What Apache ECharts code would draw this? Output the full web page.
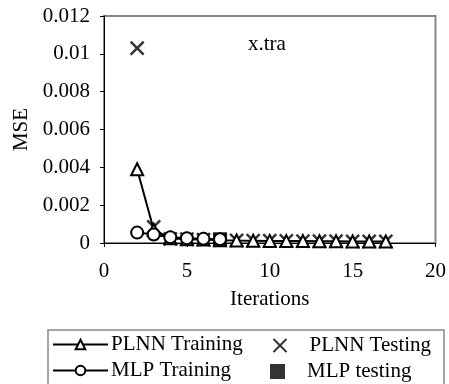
<!DOCTYPE html>
<html><head><meta charset="utf-8">
<script src="https://cdn.jsdelivr.net/npm/echarts@6/dist/echarts.min.js"></script>
<style>html,body{margin:0;padding:0;background:#fff}#c{width:449px;height:384px}</style>
</head><body><div id="c"></div>
<script>
const plnnTrainX = [2,3,4,5,6,7,8,9,10,11,12,13,14,15,16,17];
const plnnTrain = [0.0039,0.0007,0.00025,0.0002,0.00018,0.00015,0.00013,0.00012,0.00011,0.0001,0.0001,0.00009,0.00009,0.00008,0.00008,0.00008];
const plnnTestX = [2,3,4,5,6,7,8,9,10,11,12,13,14,15,16,17];
const plnnTest = [0.0103,0.00085,0.00022,0.0002,0.00018,0.00016,0.00014,0.00013,0.00012,0.00011,0.0001,0.0001,0.0001,0.00009,0.00009,0.00009];
const mlpTrainX = [2,3,4,5,6,7];
const mlpTrain = [0.00055,0.00045,0.0003,0.00025,0.00022,0.0002];
const mlpTestX = [7];
const mlpTest = [0.0002];
const yTicks = [0,0.002,0.004,0.006,0.008,0.01,0.012];
const xTicks = [0,5,10,15,20];

const F = 'Liberation Serif';
const crossPath = 'path://M0,0L10,10M10,0L0,10';
const pairs = (xs, ys) => xs.map((x,i)=>[x,ys[i]]);
const chart = echarts.init(document.getElementById('c'));
const txt = {fontFamily:F,fontSize:21,color:'#000'};
function leg(name,left,top,w,h,gap){
  return {data:[name],left:left,top:top,itemWidth:w,itemHeight:h,itemGap:0,textStyle:Object.assign({},txt,{padding:[0,0,0,gap]}),selectedMode:false,padding:0};
}
chart.setOption({
  animation:false,
  grid:{left:104,right:12,top:16,bottom:141,show:true,borderColor:'#888',borderWidth:2,backgroundColor:'transparent'},
  xAxis:{type:'value',min:0,max:20,interval:5,
    name:'Iterations',nameLocation:'middle',nameGap:46,nameTextStyle:txt,
    axisLine:{lineStyle:{color:'#000',width:1}},axisTick:{show:true,length:4,lineStyle:{color:'#000'}},
    axisLabel:Object.assign({},txt,{margin:18,formatter:v=>xTicks.includes(v)?String(v):''}),splitLine:{show:false}},
  yAxis:{type:'value',min:0,max:0.012,interval:0.002,
    name:'MSE',nameLocation:'middle',nameGap:72,nameTextStyle:txt,
    axisLine:{show:true,lineStyle:{color:'#000',width:1}},axisTick:{show:true,length:4,lineStyle:{color:'#000'}},
    axisLabel:Object.assign({},txt,{margin:14,formatter:v=>{const t=yTicks.find(a=>Math.abs(a-v)<1e-9);return t===undefined?'':String(t);}}),splitLine:{show:false}},
  legend:[
    leg('PLNN Training',52,334,55,12,-2),
    leg('MLP Training',52,360,55,12,-2),
    leg('PLNN Testing',271,335,13,13,18),
    leg('MLP testing',270,361,15,15,17)
  ],
  graphic:[
    {type:'rect',shape:{x:48,y:330,width:396,height:70},style:{fill:'none',stroke:'#888',lineWidth:1.5},z:-1},
    {type:'text',left:248,top:34,style:{text:'x.tra',font:'21px "Liberation Serif"',fill:'#000'}}
  ],
  series:[
    {name:'PLNN Training',type:'line',data:pairs(plnnTrainX,plnnTrain),symbol:'triangle',symbolSize:12,
      lineStyle:{color:'#000',width:2},itemStyle:{color:'#fff',borderColor:'#000',borderWidth:2}},
    {name:'PLNN Testing',type:'scatter',data:pairs(plnnTestX,plnnTest),symbol:crossPath,symbolSize:13,
      itemStyle:{color:'none',borderColor:'#000',borderWidth:2.5}},
    {name:'MLP Training',type:'line',data:pairs(mlpTrainX,mlpTrain),symbol:'circle',symbolSize:12,
      lineStyle:{color:'#000',width:2},itemStyle:{color:'#fff',borderColor:'#000',borderWidth:2}},
    {name:'MLP testing',type:'scatter',data:pairs(mlpTestX,mlpTest),symbol:'rect',symbolSize:14,
      itemStyle:{color:'#000'}}
  ]
});
</script></body></html>
